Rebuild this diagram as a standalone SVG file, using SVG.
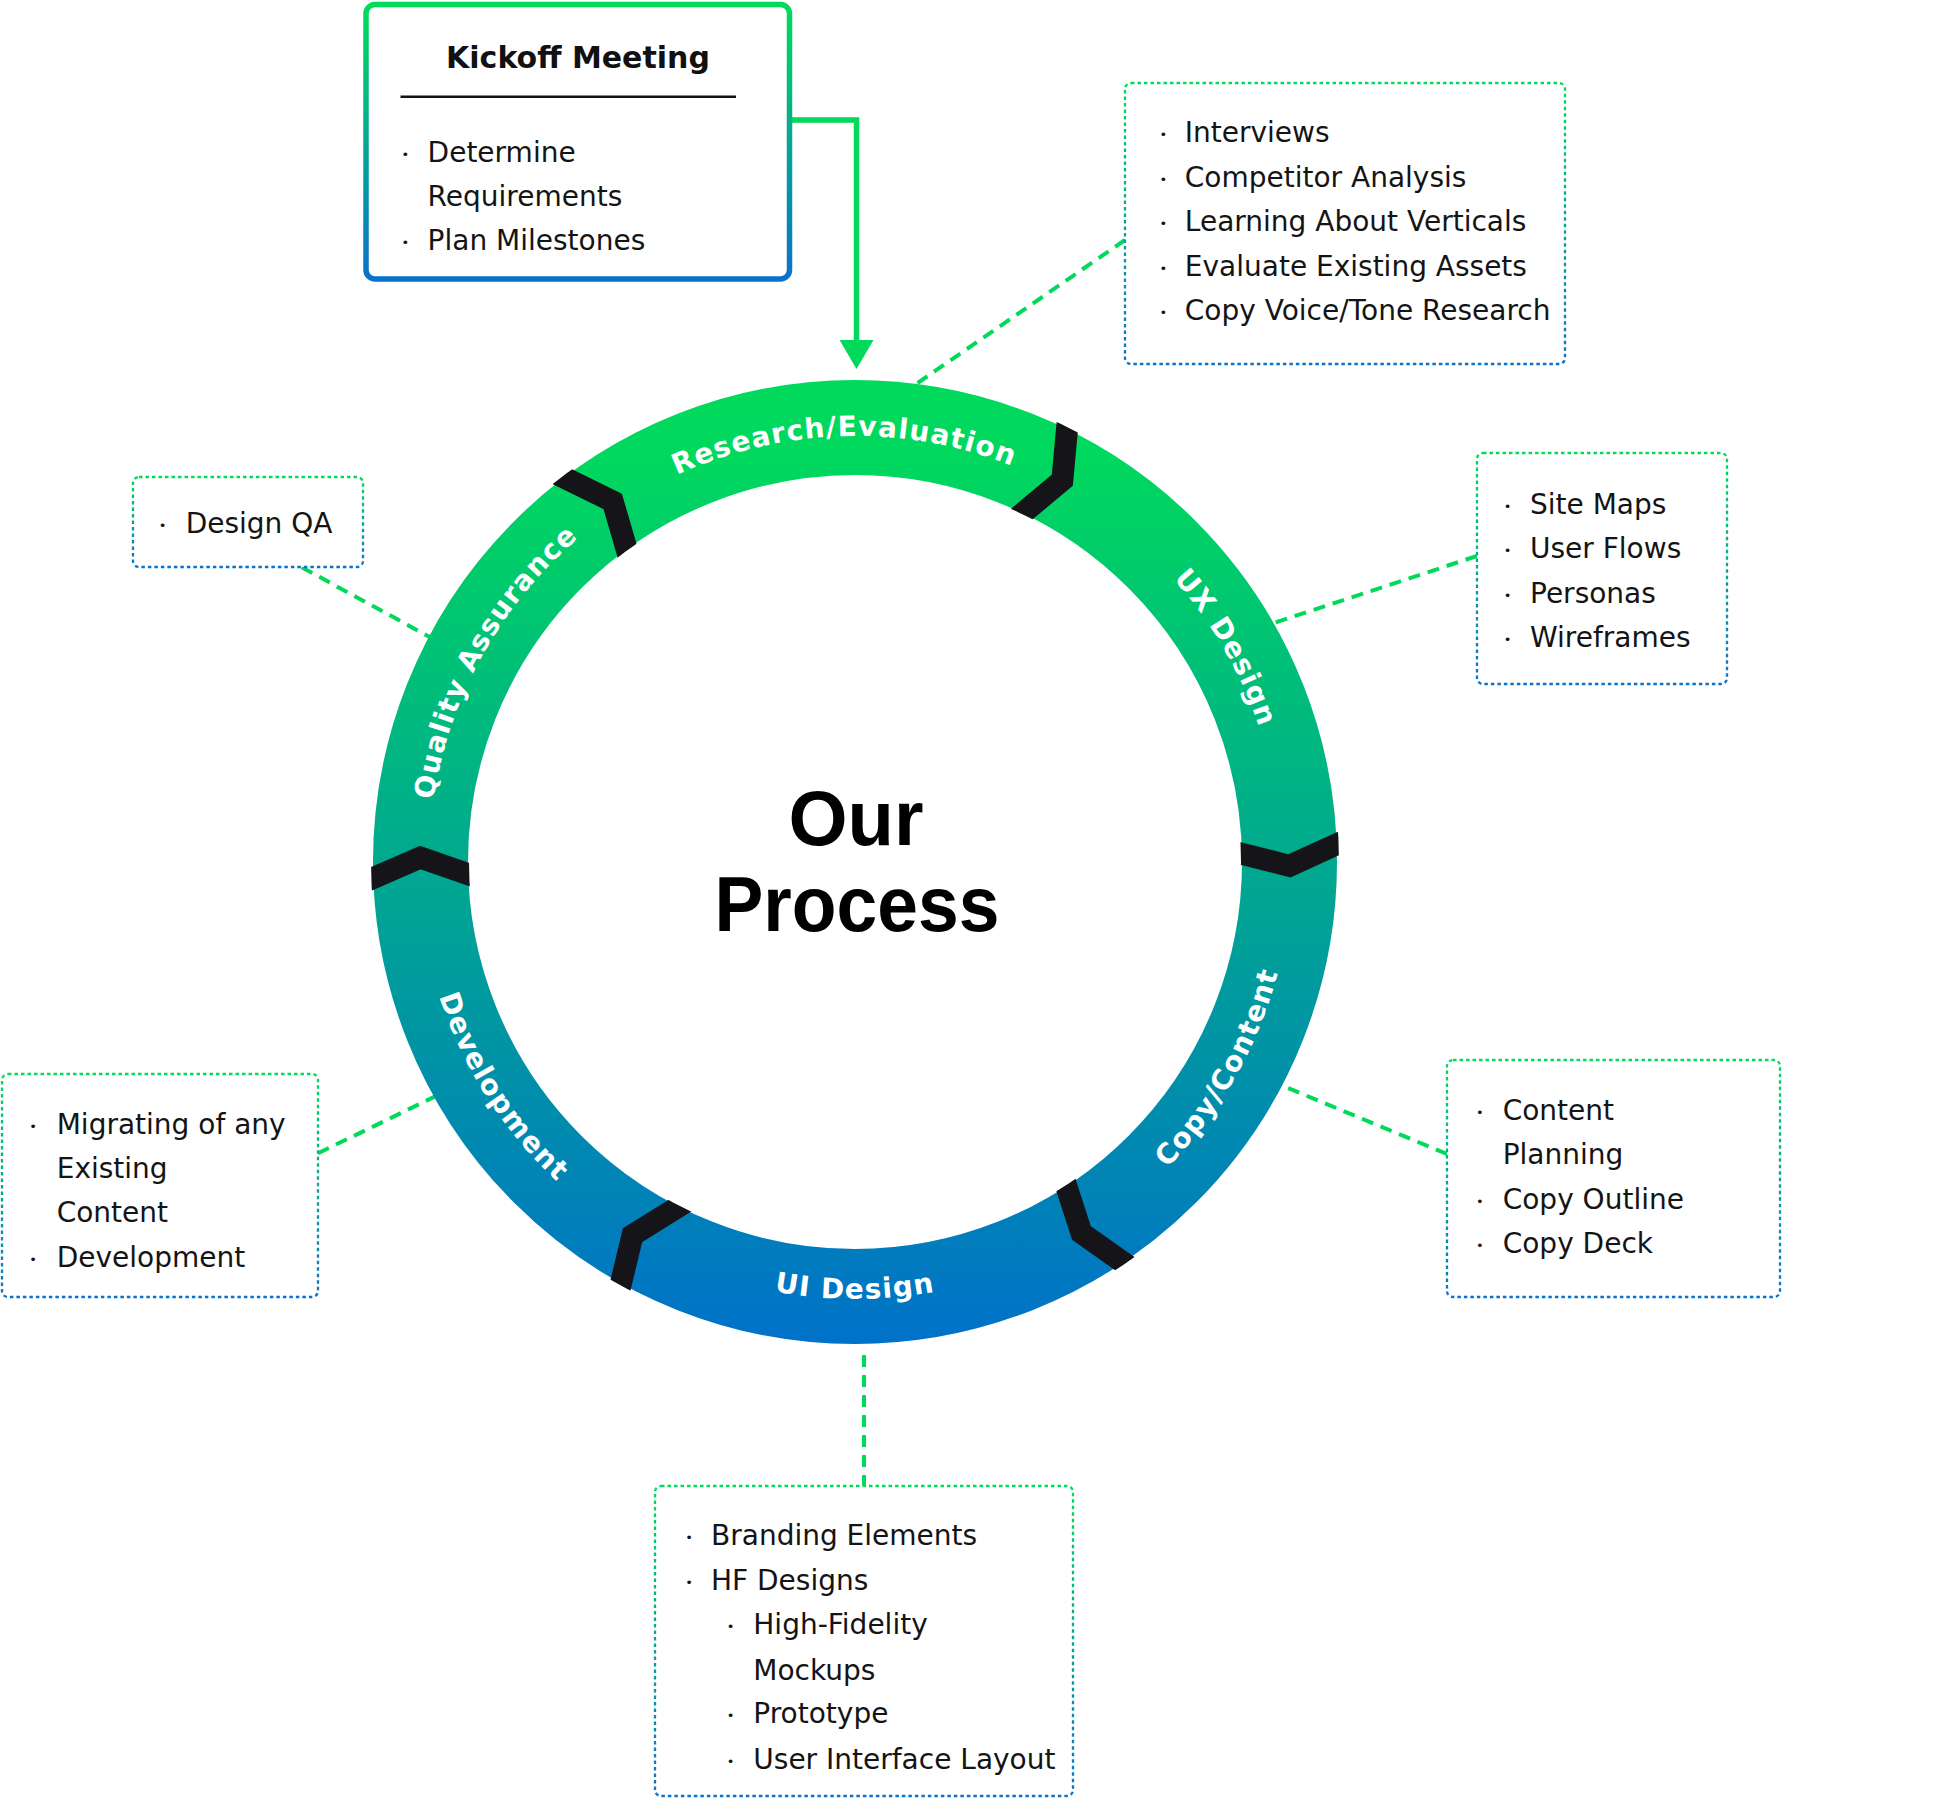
<svg xmlns="http://www.w3.org/2000/svg" width="1944" height="1798" viewBox="0 0 1944 1798">
<style>
.item{font-family:"DejaVu Sans","Liberation Sans",sans-serif;font-size:28px;fill:#141414}
.dot{font-family:"DejaVu Sans",sans-serif;font-size:13px;fill:#141414}
.lbl{font-family:"DejaVu Sans","Liberation Sans",sans-serif;font-weight:bold;font-size:28px;fill:#ffffff;letter-spacing:1.2px}
.box{fill:#ffffff;stroke:url(#boxGrad);stroke-width:2.3;stroke-dasharray:3.5 3}
.conn{fill:none;stroke:#00D95A;stroke-width:4;stroke-dasharray:12 8}
.chev{fill:none;stroke:#141419;stroke-width:22;stroke-linejoin:miter;stroke-miterlimit:10}
</style>
<defs>
<linearGradient id="boxGrad" x1="0" y1="0" x2="0" y2="1">
<stop offset="0" stop-color="#00DC5A"/>
<stop offset="1" stop-color="#0A72CC"/>
</linearGradient>
<linearGradient id="kickGrad" x1="0" y1="0" x2="0" y2="1">
<stop offset="0" stop-color="#00DC5A"/>
<stop offset="1" stop-color="#0A72CC"/>
</linearGradient>
<linearGradient id="ringGrad" gradientUnits="userSpaceOnUse" x1="0" y1="379" x2="0" y2="1345">
<stop offset="0" stop-color="#00DA5C"/>
<stop offset="0.08" stop-color="#00D85E"/>
<stop offset="1" stop-color="#0071C9"/>
</linearGradient>
<clipPath id="ringClip">
<path clip-rule="evenodd" d="M371,862 A484,484 0 1 1 1339,862 A484,484 0 1 1 371,862 Z M469,862 A386,386 0 1 0 1241,862 A386,386 0 1 0 469,862 Z"/>
</clipPath>
<marker id="arrow" markerUnits="userSpaceOnUse" markerWidth="30" markerHeight="34" viewBox="0 0 30 34" refX="1" refY="17" orient="auto">
<path d="M0,0 L29,17 L0,34 Z" fill="#00D95A"/>
</marker>
<path id="pResearch" d="M451.0,726.8 A426,426 0 0 1 1251.4,705.9"/>
<path id="pUX" d="M781.0,442.5 A426,426 0 0 1 1181.3,1135.8"/>
<path id="pQA" d="M533.5,1141.5 A426,426 0 0 1 921.6,441.2"/>
<path id="pCopy" d="M782.9,1293.0 A437,437 0 0 0 1187.3,578.2"/>
<path id="pUI" d="M444.4,1011.5 A437,437 0 0 0 1265.6,1011.5"/>
<path id="pDev" d="M508.3,596.0 A437,437 0 0 0 949.6,1288.6"/>
</defs>

<g id="connectors">
<polyline points="789.5,120 856.5,120 856.5,341" fill="none" stroke="#00D95A" stroke-width="5.5" marker-end="url(#arrow)"/>
<line class="conn" x1="1125" y1="240" x2="905" y2="391.7"/>
<line class="conn" x1="301.7" y1="567.3" x2="432" y2="638.2"/>
<line class="conn" x1="1477" y1="556" x2="1266" y2="625.6"/>
<line class="conn" x1="1447" y1="1154" x2="1275" y2="1082.6"/>
<line class="conn" x1="318" y1="1153.3" x2="442" y2="1093.1"/>
<line class="conn" x1="864" y1="1355" x2="864" y2="1485"/>
</g>

<g id="ring">
<circle cx="855" cy="862" r="434.5" fill="none" stroke="url(#ringGrad)" stroke-width="95"/>
<g clip-path="url(#ringClip)">
<polyline class="chev" points="1007.0,526.5 1062.3,480.2 1068.9,408.8"/>
<polyline class="chev" points="1222.9,849.1 1289.5,865.8 1355.6,835.7"/>
<polyline class="chev" points="1060.3,1167.5 1081.4,1232.9 1139.8,1274.3"/>
<polyline class="chev" points="697.2,1195.0 632.5,1235.2 616.3,1302.7"/>
<polyline class="chev" points="487.3,880.9 420.5,857.5 354.4,886.2"/>
<polyline class="chev" points="632.3,568.7 612.7,501.4 544.9,468.1"/>
</g>
</g>

<g id="stage-research"><text class="lbl"><textPath href="#pResearch" startOffset="50%" text-anchor="middle">Research/Evaluation</textPath></text></g>
<g id="stage-ux"><text class="lbl"><textPath href="#pUX" startOffset="50%" text-anchor="middle">UX Design</textPath></text></g>
<g id="stage-copy"><text class="lbl"><textPath href="#pCopy" startOffset="50%" text-anchor="middle">Copy/Content</textPath></text></g>
<g id="stage-ui"><text class="lbl"><textPath href="#pUI" startOffset="50%" text-anchor="middle">UI Design</textPath></text></g>
<g id="stage-dev"><text class="lbl"><textPath href="#pDev" startOffset="50%" text-anchor="middle">Development</textPath></text></g>
<g id="stage-qa"><text class="lbl"><textPath href="#pQA" startOffset="50%" text-anchor="middle">Quality Assurance</textPath></text></g>

<g id="title">
<text x="856" y="845" text-anchor="middle" font-family="'Liberation Sans',Arial,sans-serif" font-weight="bold" font-size="78" fill="#000" textLength="135" lengthAdjust="spacingAndGlyphs">Our</text>
<text x="857" y="931" text-anchor="middle" font-family="'Liberation Sans',Arial,sans-serif" font-weight="bold" font-size="78" fill="#000" textLength="285" lengthAdjust="spacingAndGlyphs">Process</text>
</g>

<g id="kickoff">
<rect x="366" y="4.5" width="423.5" height="274.5" rx="9" fill="#ffffff" stroke="url(#kickGrad)" stroke-width="5.5"/>
<text x="578" y="68" text-anchor="middle" font-family="'DejaVu Sans',sans-serif" font-weight="bold" font-size="30" fill="#111">Kickoff Meeting</text>
<line x1="400.5" y1="96.7" x2="736" y2="96.7" stroke="#111" stroke-width="2.5"/>
<text class="dot" x="401.5" y="159">•</text>
<text class="item" x="427.6" y="162">Determine</text>
<text class="item" x="427.6" y="206">Requirements</text>
<text class="dot" x="401.5" y="247">•</text>
<text class="item" x="427.6" y="250">Plan Milestones</text>
</g>

<g id="research-notes">
<rect class="box" x="1125" y="83" width="440" height="281" rx="6"/>
<text class="dot" x="1159.5" y="139">•</text>
<text class="item" x="1184.8" y="142">Interviews</text>
<text class="dot" x="1159.5" y="183.5">•</text>
<text class="item" x="1184.8" y="186.5">Competitor Analysis</text>
<text class="dot" x="1159.5" y="228">•</text>
<text class="item" x="1184.8" y="231">Learning About Verticals</text>
<text class="dot" x="1159.5" y="272.5">•</text>
<text class="item" x="1184.8" y="275.5">Evaluate Existing Assets</text>
<text class="dot" x="1159.5" y="317">•</text>
<text class="item" x="1184.8" y="320">Copy Voice/Tone Research</text>
</g>

<g id="ux-notes">
<rect class="box" x="1477" y="453" width="250" height="231" rx="6"/>
<text class="dot" x="1503.7" y="510.5">•</text>
<text class="item" x="1530" y="513.5">Site Maps</text>
<text class="dot" x="1503.7" y="555">•</text>
<text class="item" x="1530" y="558">User Flows</text>
<text class="dot" x="1503.7" y="599.5">•</text>
<text class="item" x="1530" y="602.5">Personas</text>
<text class="dot" x="1503.7" y="644">•</text>
<text class="item" x="1530" y="647">Wireframes</text>
</g>

<g id="copy-notes">
<rect class="box" x="1447" y="1060" width="333" height="237" rx="6"/>
<text class="dot" x="1476" y="1116.5">•</text>
<text class="item" x="1502.7" y="1119.5">Content</text>
<text class="item" x="1502.7" y="1164">Planning</text>
<text class="dot" x="1476" y="1205.5">•</text>
<text class="item" x="1502.7" y="1208.5">Copy Outline</text>
<text class="dot" x="1476" y="1250">•</text>
<text class="item" x="1502.7" y="1253">Copy Deck</text>
</g>

<g id="ui-notes">
<rect class="box" x="655" y="1486" width="418" height="310" rx="6"/>
<text class="dot" x="685.3" y="1542">•</text>
<text class="item" x="711" y="1545">Branding Elements</text>
<text class="dot" x="685.3" y="1587">•</text>
<text class="item" x="711" y="1590">HF Designs</text>
<text class="dot" x="726.7" y="1631.3">•</text>
<text class="item" x="753.3" y="1634.3">High-Fidelity</text>
<text class="item" x="753.3" y="1680">Mockups</text>
<text class="dot" x="726.7" y="1720.3">•</text>
<text class="item" x="753.3" y="1723.3">Prototype</text>
<text class="dot" x="726.7" y="1766.3">•</text>
<text class="item" x="753.3" y="1769.3">User Interface Layout</text>
</g>

<g id="dev-notes">
<rect class="box" x="2" y="1074" width="316" height="223" rx="6"/>
<text class="dot" x="29.3" y="1131">•</text>
<text class="item" x="56.7" y="1134">Migrating of any</text>
<text class="item" x="56.7" y="1178.3">Existing</text>
<text class="item" x="56.7" y="1222.3">Content</text>
<text class="dot" x="29.3" y="1264.3">•</text>
<text class="item" x="56.7" y="1267.3">Development</text>
</g>

<g id="qa-notes">
<rect class="box" x="133" y="477" width="230" height="90" rx="6"/>
<text class="dot" x="158.7" y="530">•</text>
<text class="item" x="185.7" y="533">Design QA</text>
</g>
</svg>
